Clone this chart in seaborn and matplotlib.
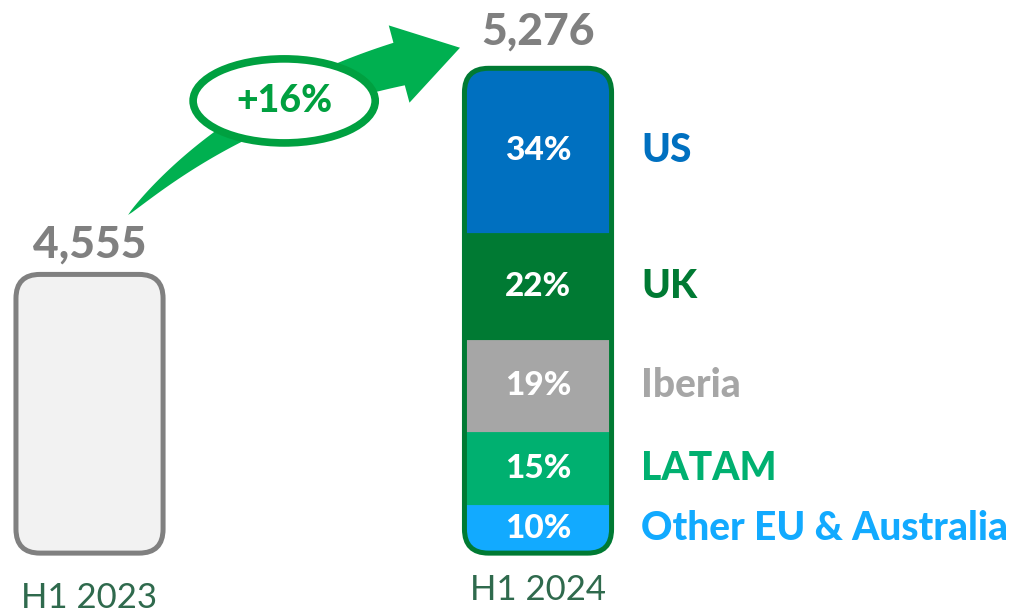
import matplotlib.pyplot as plt
import seaborn as sns
import numpy as np
import pandas as pd
from matplotlib.patches import FancyBboxPatch, Ellipse, Polygon
from matplotlib.transforms import IdentityTransform

# Data
periods = ["H1 2023", "H1 2024"]
totals = [4555, 5276]
regions = ["US", "UK", "Iberia", "LATAM", "Other EU & Australia"]
shares = [34, 22, 19, 15, 10]
region_colors = ["#0070c0", "#007a33", "#a6a6a6", "#00b070", "#12aaff"]

BASE = 3580  # value axis does not start at zero
growth = totals[1] / totals[0] - 1

sns.set_style("white")
plt.rcParams["font.family"] = ["Lato", "DejaVu Sans"]

fig = plt.figure(figsize=(10.2, 6.16), dpi=100)
ax = fig.add_axes([0, 0, 1, 1])

df = pd.DataFrame({"period": periods, "height": [t - BASE for t in totals]})
sns.barplot(data=df, x="period", y="height", width=0.328, color="#f2f2f2", ax=ax)
ax.set_xlim(-0.1996, 2.0747)
ax.set_ylim(-220, 1935)
ax.axis("off")

# pixel scale so rounded corners stay round
(x0, y0), (x1, y1) = ax.transData.transform([(0, 0), (1, 1)])
px_x, px_y = x1 - x0, y1 - y0
aspect = px_x / px_y
radius = 24 / px_x

bars = list(ax.patches)
boxes = []
for bar, face, edge in zip(bars, ["#f2f2f2", "none"], ["#808080", "#007a33"]):
    bar.set_visible(False)
    box = FancyBboxPatch((bar.get_x(), bar.get_y()), bar.get_width(), bar.get_height(),
                         boxstyle=f"round,pad=0,rounding_size={radius}",
                         mutation_aspect=aspect, facecolor=face, edgecolor=edge,
                         linewidth=3.6, zorder=3)
    ax.add_patch(box)
    boxes.append(box)

# Stacked regional split for H1 2024
right = bars[1]
seg_heights = [s / 100 * right.get_height() for s in shares]
for i, (reg, s, h, c) in enumerate(zip(regions, shares, seg_heights, region_colors)):
    bottom = sum(seg_heights[i + 1:])
    seg = ax.bar(right.get_x() + right.get_width() / 2, h, bottom=bottom,
                 width=right.get_width(), color=c, edgecolor=c, linewidth=0.6, zorder=2)[0]
    seg.set_clip_path(boxes[1])
    mid = bottom + h / 2
    ax.text(1, mid, f"{s}%", color="white", fontsize=24, fontweight="black",
            ha="center", va="center", zorder=4)
    ax.text(1.2297, mid, reg, color=c, fontsize=28, fontweight="black",
            ha="left", va="center")

# Totals and period labels
for i, (bar, t, pad) in enumerate(zip(bars, totals, [12, 17])):
    ax.annotate(f"{t:,}", (i, bar.get_height()), xytext=(0, pad), textcoords="offset points",
                ha="center", va="baseline", fontsize=32, fontweight="black", color="#808080")
for i, (p, y) in enumerate(zip(periods, [-157, -130])):
    ax.text(i, y, p, ha="center", va="center", fontsize=25, color="#2f6a4d")

# Growth arrow: tapered quadratic shaft + triangular head, built in pixels
S, C, T = ax.transData.transform([(0.086, 1183), (0.327, 1561), (0.826, 1768)])
ang = np.deg2rad(15)
d = np.array([np.cos(ang), np.sin(ang)])
n = np.array([-d[1], d[0]])
B = T - 63 * d
t = np.linspace(0, 1, 60)[:, None]
curve = (1 - t) ** 2 * S + 2 * (1 - t) * t * C + t ** 2 * B
tang = np.gradient(curve, axis=0)
tang /= np.linalg.norm(tang, axis=1)[:, None]
norm = np.column_stack([-tang[:, 1], tang[:, 0]])
w = 22 * t ** 0.75
upper = curve + norm * w
lower = curve - norm * w
head = [B + n * 40, T, B - n * 40]
pts = np.vstack([upper, head, lower[::-1]])
ax.add_patch(Polygon(pts, closed=True, transform=IdentityTransform(),
                     facecolor="#00b050", edgecolor="none", zorder=4))

ax.add_patch(Ellipse((0.434, 1582), 0.406, 294, facecolor="white", edgecolor="#00a040",
                     linewidth=5.5, zorder=5))
ax.text(0.434, 1582, f"+{growth:.0%}", ha="center", va="center", fontsize=27,
        fontweight="black", color="#00a040", zorder=6)

fig.savefig("out.png", dpi=100)
